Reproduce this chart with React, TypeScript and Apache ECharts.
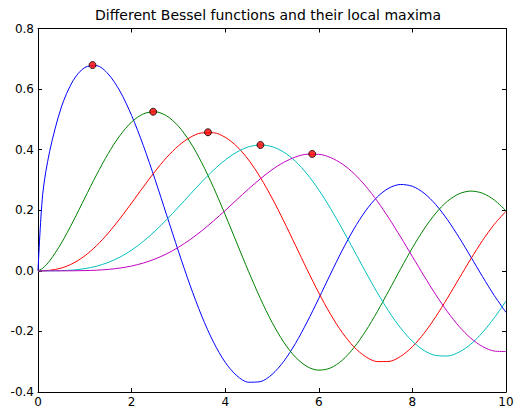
import React, { useEffect, useRef } from "react";
import * as echarts from "echarts";

const xs = [0, 0.1, 0.25, 0.5, 0.75, 1, 1.25, 1.5, 1.75, 2, 2.25, 2.5, 2.75, 3, 3.25, 3.5, 3.75, 4, 4.25, 4.5, 4.75, 5, 5.25, 5.5, 5.75, 6, 6.25, 6.5, 6.75, 7, 7.25, 7.5, 7.75, 8, 8.25, 8.5, 8.75, 9, 9.25, 9.5, 9.75, 10];
const j05 = [0, 0.2519, 0.3948, 0.541, 0.628, 0.6714, 0.6772, 0.6498, 0.5935, 0.513, 0.4139, 0.302, 0.1836, 0.065, -0.0479, -0.1496, -0.2355, -0.3019, -0.3464, -0.3677, -0.3658, -0.3422, -0.2991, -0.24, -0.1691, -0.091, -0.0106, 0.0673, 0.1382, 0.1981, 0.2439, 0.2733, 0.2851, 0.2791, 0.2563, 0.2185, 0.1685, 0.1096, 0.0456, -0.0195, -0.0816, -0.1373];
const j15 = [0, 0.0084, 0.033, 0.0917, 0.1632, 0.2403, 0.3168, 0.3871, 0.4466, 0.4913, 0.5181, 0.5251, 0.5115, 0.4777, 0.4253, 0.3566, 0.2753, 0.1853, 0.0911, -0.0024, -0.0908, -0.1697, -0.2353, -0.2847, -0.316, -0.3279, -0.3207, -0.2953, -0.2538, -0.1991, -0.1347, -0.0646, 0.007, 0.0759, 0.1382, 0.1905, 0.2299, 0.2545, 0.2633, 0.2561, 0.2338, 0.198];
const j25 = [0, 0.0002, 0.0017, 0.0092, 0.0249, 0.0495, 0.083, 0.1244, 0.1722, 0.2239, 0.2769, 0.3281, 0.3744, 0.4127, 0.4404, 0.4553, 0.4557, 0.4409, 0.4107, 0.3661, 0.3085, 0.2404, 0.1647, 0.0847, 0.0043, -0.0729, -0.1433, -0.2036, -0.251, -0.2834, -0.2996, -0.2991, -0.2823, -0.2506, -0.206, -0.1513, -0.0897, -0.0248, 0.0398, 0.1003, 0.1536, 0.1967];
const j35 = [0, 0, 0.0001, 0.0007, 0.0027, 0.0072, 0.0152, 0.0277, 0.0453, 0.0685, 0.0973, 0.1311, 0.1692, 0.2101, 0.2523, 0.2938, 0.3324, 0.3658, 0.3921, 0.4092, 0.4155, 0.41, 0.3921, 0.3618, 0.3197, 0.2671, 0.206, 0.1387, 0.0678, -0.0034, -0.072, -0.1349, -0.1892, -0.2326, -0.2631, -0.2795, -0.2811, -0.2683, -0.2418, -0.2033, -0.155, -0.0997];
const j45 = [0, 0, 0, 0, 0.0002, 0.0008, 0.0021, 0.0047, 0.0091, 0.0159, 0.0257, 0.039, 0.0562, 0.0776, 0.103, 0.1323, 0.1647, 0.1993, 0.235, 0.2704, 0.3038, 0.3337, 0.3581, 0.3757, 0.3849, 0.3846, 0.3741, 0.3529, 0.3214, 0.28, 0.2301, 0.1732, 0.1115, 0.0471, -0.0172, -0.0788, -0.1352, -0.1839, -0.2227, -0.2501, -0.2649, -0.2664];
const maxX = [1.1656, 2.4604, 3.632, 4.753, 5.859];
const maxY = [0.6793, 0.5253, 0.4574, 0.4155, 0.386];

const seriesValues = [j05, j15, j25, j35, j45];
const colors = ["#0000ff", "#008000", "#ff0000", "#00bfbf", "#bf00bf"];
const FONT = "DejaVu Sans";

export default function App() {
  const ref = useRef<HTMLDivElement>(null);
  useEffect(() => {
    if (!ref.current) return;
    const chart = echarts.init(ref.current, undefined, { renderer: "svg" });
    const axisCommon = {
      type: "value" as const,
      axisLine: { show: true, onZero: false, lineStyle: { color: "#000", width: 1 } },
      axisTick: { show: true, inside: true, length: 4, lineStyle: { color: "#000" } },
      splitLine: { show: false },
    };
    const lines = seriesValues.map((ys, i) => ({
      type: "line" as const,
      data: xs.map((x, k) => [x, ys[k]]),
      showSymbol: false,
      smooth: 0.3,
      lineStyle: { color: colors[i], width: 1 },
      itemStyle: { color: colors[i] },
      z: 2,
    }));
    chart.setOption({
      animation: false,
      title: {
        text: "Different Bessel functions and their local maxima",
        left: 90,
        top: 3,
        textStyle: { fontFamily: FONT, fontSize: 14, fontWeight: "normal", color: "#000" },
      },
      grid: { left: 38, right: 14, top: 28.5, bottom: 15 },
      xAxis: [
        {
          ...axisCommon,
          position: "bottom",
          min: 0,
          max: 10,
          interval: 2,
          axisLabel: { show: true, fontFamily: FONT, fontSize: 12, color: "#000", margin: 4 },
        },
        {
          ...axisCommon,
          position: "top",
          min: 0,
          max: 10,
          interval: 2,
          axisLabel: { show: false },
        },
      ],
      yAxis: [
        {
          ...axisCommon,
          position: "left",
          min: -0.4,
          max: 0.8,
          interval: 0.2,
          axisLabel: {
            show: true,
            fontFamily: FONT,
            fontSize: 12,
            color: "#000",
            margin: 4,
            formatter: (v: number) => v.toFixed(1),
          },
        },
        {
          ...axisCommon,
          position: "right",
          min: -0.4,
          max: 0.8,
          interval: 0.2,
          axisLabel: { show: false },
        },
      ],
      series: [
        ...lines,
        {
          type: "scatter",
          data: maxX.map((x, k) => [x, maxY[k]]),
          symbol: "circle",
          symbolSize: 7,
          itemStyle: { color: "#ff0000", borderColor: "#000", borderWidth: 1 },
          z: 5,
        },
      ],
    });
    return () => chart.dispose();
  }, []);
  return (
    <div
      ref={ref}
      style={{ position: "absolute", left: 0, top: 0, width: 520, height: 408, background: "#fff" }}
    />
  );
}
